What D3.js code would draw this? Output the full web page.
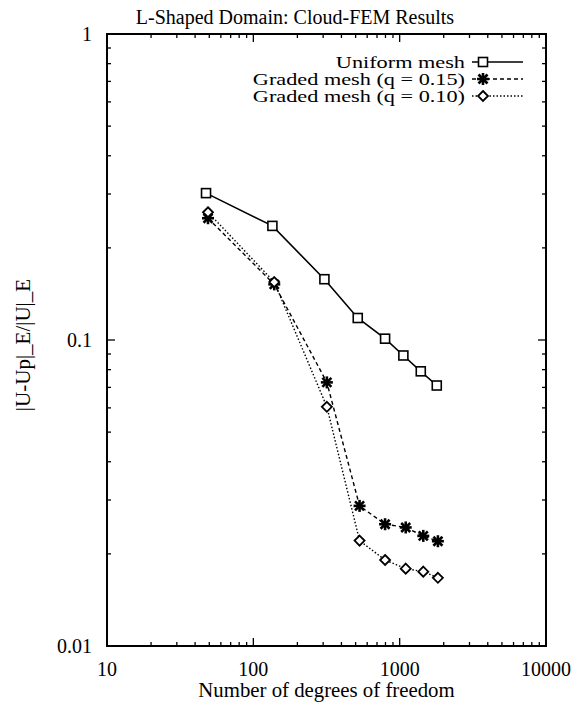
<!doctype html>
<html>
<head>
<meta charset="utf-8"/>
<title>L-Shaped Domain: Cloud-FEM Results</title>
<script src="https://d3js.org/d3.v7.min.js"></script>
<style>
body{margin:0;background:#fff;}
text{font-family:"Liberation Serif","Times New Roman",serif;fill:#000;}
</style>
</head>
<body>
<script type="text/javascript">
// data
var dofUniform = [47.5, 135, 306, 517, 795, 1060, 1394, 1793];
var errUniform = [0.302, 0.236, 0.158, 0.118, 0.101, 0.089, 0.079, 0.071];
var dofGraded = [49, 139, 318, 532, 795, 1100, 1450, 1825];
var errQ15 = [0.250, 0.152, 0.0727, 0.0287, 0.0250, 0.0244, 0.0229, 0.0220];
var errQ10 = [0.2615, 0.1547, 0.0605, 0.0221, 0.0191, 0.0179, 0.0175, 0.0167];
var xTicks = [10, 100, 1000, 10000];
var yTicks = [0.01, 0.1, 1];
var legendNames = ["Uniform mesh", "Graded mesh (q = 0.15)", "Graded mesh (q = 0.10)"];

var W = 581, H = 706;
var pLeft = 107, pRight = 546, pTop = 34, pBottom = 646;

var svg = d3.select("body").append("svg")
  .attr("width", W).attr("height", H);

var x = d3.scaleLog().domain([10, 10000]).range([pLeft, pRight]);
var y = d3.scaleLog().domain([0.01, 1]).range([pBottom, pTop]);

// frame
svg.append("rect")
  .attr("x", pLeft).attr("y", pTop)
  .attr("width", pRight - pLeft).attr("height", pBottom - pTop)
  .attr("fill", "none").attr("stroke", "#000").attr("stroke-width", 2);

// ticks on all four sides, pointing in
var ticks = svg.append("g").attr("stroke", "#000").attr("stroke-width", 1.3);
function minorsOf(list){
  var out = [];
  for (var i = 0; i < list.length - 1; i++)
    for (var k = 2; k <= 9; k++) out.push(list[i] * k);
  return out;
}
xTicks.forEach(function(v){
  ticks.append("line").attr("x1", x(v)).attr("x2", x(v)).attr("y1", pBottom).attr("y2", pBottom - 8);
  ticks.append("line").attr("x1", x(v)).attr("x2", x(v)).attr("y1", pTop).attr("y2", pTop + 8);
});
minorsOf(xTicks).forEach(function(v){
  ticks.append("line").attr("x1", x(v)).attr("x2", x(v)).attr("y1", pBottom).attr("y2", pBottom - 4);
  ticks.append("line").attr("x1", x(v)).attr("x2", x(v)).attr("y1", pTop).attr("y2", pTop + 4);
});
yTicks.forEach(function(v){
  ticks.append("line").attr("y1", y(v)).attr("y2", y(v)).attr("x1", pLeft).attr("x2", pLeft + 8);
  ticks.append("line").attr("y1", y(v)).attr("y2", y(v)).attr("x1", pRight).attr("x2", pRight - 8);
});
minorsOf(yTicks).forEach(function(v){
  ticks.append("line").attr("y1", y(v)).attr("y2", y(v)).attr("x1", pLeft).attr("x2", pLeft + 4);
  ticks.append("line").attr("y1", y(v)).attr("y2", y(v)).attr("x1", pRight).attr("x2", pRight - 4);
});

// tick labels
svg.selectAll(".xl").data(xTicks).enter().append("text")
  .attr("x", function(d){ return x(d); }).attr("y", 676)
  .attr("text-anchor", "middle").attr("font-size", 20)
  .text(function(d){ return d; });
svg.selectAll(".yl").data(yTicks).enter().append("text")
  .attr("x", 92).attr("y", function(d){ return y(d) + 7; })
  .attr("text-anchor", "end").attr("font-size", 20)
  .text(function(d){ return d; });

// titles
svg.append("text").attr("x", 295).attr("y", 24).attr("text-anchor", "middle")
  .attr("font-size", 20).text("L-Shaped Domain: Cloud-FEM Results");
svg.append("text").attr("x", (pLeft + pRight) / 2).attr("y", 697).attr("text-anchor", "middle")
  .attr("font-size", 20.8).text("Number of degrees of freedom");
svg.append("text").attr("transform", "translate(30,345) rotate(-90)")
  .attr("text-anchor", "middle").attr("font-size", 21).text("|U-Up|_E/|U|_E");

// marker shapes
function square(g, cx, cy){
  g.append("rect").attr("x", cx - 4.5).attr("y", cy - 4.5).attr("width", 9).attr("height", 9)
    .attr("fill", "#fff").attr("stroke", "#000").attr("stroke-width", 1.6);
}
function star(g, cx, cy){
  var r = 6;
  [[0, r], [r, 0], [r * 0.75, r * 0.75], [r * 0.75, -r * 0.75]].forEach(function(p){
    g.append("line").attr("x1", cx - p[0]).attr("y1", cy - p[1]).attr("x2", cx + p[0]).attr("y2", cy + p[1])
      .attr("stroke", "#000").attr("stroke-width", 2.6);
  });
}
function diamond(g, cx, cy){
  var r = 5;
  g.append("path").attr("d", "M" + cx + "," + (cy - r) + "L" + (cx + r) + "," + cy + "L" + cx + "," + (cy + r) + "L" + (cx - r) + "," + cy + "Z")
    .attr("fill", "#fff").attr("stroke", "#000").attr("stroke-width", 1.8);
}

var series = [
  {xs: dofUniform, ys: errUniform, dash: null, width: 1.6, mark: square},
  {xs: dofGraded, ys: errQ15, dash: "4,3", width: 1.4, mark: star},
  {xs: dofGraded, ys: errQ10, dash: "1.5,2", width: 1.4, mark: diamond}
];

var line = d3.line().x(function(d){ return x(d[0]); }).y(function(d){ return y(d[1]); });

series.forEach(function(s){
  var pts = s.xs.map(function(v, i){ return [v, s.ys[i]]; });
  svg.append("path").attr("d", line(pts)).attr("fill", "none")
    .attr("stroke", "#000").attr("stroke-width", s.width)
    .attr("stroke-dasharray", s.dash);
});
series.forEach(function(s){
  var g = svg.append("g");
  s.xs.forEach(function(v, i){ s.mark(g, x(v), y(s.ys[i])); });
});

// legend (the scan's lettering is wide and short, so stretch it a bit)
var legend = svg.append("g");
legendNames.forEach(function(name, i){
  var ly = 62 + i * 17;
  var s = series[i];
  legend.append("text").attr("transform", "translate(465," + (ly + 5.5) + ") scale(1.31,1)")
    .attr("text-anchor", "end").attr("font-size", 17).text(name);
  legend.append("line").attr("x1", 472).attr("x2", 523).attr("y1", ly).attr("y2", ly)
    .attr("stroke", "#000").attr("stroke-width", s.width).attr("stroke-dasharray", s.dash);
  s.mark(legend, 483, ly);
});
</script>
</body>
</html>
